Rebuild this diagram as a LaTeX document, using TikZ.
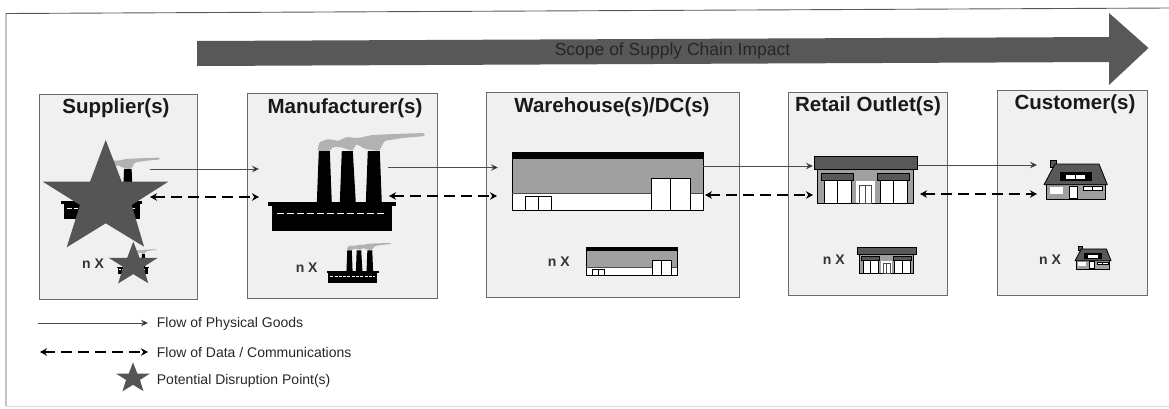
\documentclass[tikz,border=0pt]{standalone}
\usepackage{fontspec}
\setmainfont{Liberation Sans}
\usetikzlibrary{arrows.meta}
\definecolor{panelgray}{HTML}{F0F0F0}
\definecolor{edgegray}{HTML}{6A6A6A}
\definecolor{dark}{HTML}{585858}
\definecolor{starcol}{HTML}{555555}
\definecolor{midgray}{HTML}{A0A0A0}
\tikzset{
  panel/.style={draw=edgegray,line width=.8pt,fill=panelgray,anchor=north west,inner sep=0pt},
  paneltitle/.style={font=\fontsize{20.5}{24}\selectfont\bfseries,text=black!90,inner sep=0pt},
  nx/.style={font=\fontsize{14}{18}\selectfont\bfseries,text=black!80,inner sep=0pt},
  legendtext/.style={font=\fontsize{14}{17}\selectfont,text=black!85,anchor=west,inner sep=0pt},
  goods/.style={draw=black!70,line width=.8pt,-{Stealth[length=7pt,width=6.5pt,fill=black]}},
  data/.style={draw=black,line width=2.3pt,dash pattern=on 11pt off 6pt,{Stealth[length=7pt,width=7.5pt]}-{Stealth[length=7pt,width=7.5pt]}},
  roofdash/.style={white,line width=1.5pt,dash pattern=on 7pt off 3pt},
  staricon/.pic={
    \fill[starcol] (0,-160)--(48,-35)--(188,-35)--(78,35)--(115,160)--(0,90)--(-117,162)--(-77,35)--(-189,-35)--(-47,-35)--cycle;
  },
  factoryicon/.pic={
    \fill[black!30,rounded corners=1.5pt] (-15,-53)--(-13,-62)--(-4,-65)--(6,-63)--(14,-67)--(26,-66)--(40,-69)--(62,-70)--(92,-71)--(93,-68)--(70,-66)--(52,-63)--(47,-53)--(33,-55)--(24,-60)--(20,-53)--(8,-57)--(0,-57)--(-2,-53)--cycle;
    \fill[black] (-15.5,-1)--(-13.5,-53)--(-2.5,-53)--(-0.5,-1)--cycle;
    \fill[black] (7.5,-1)--(9.5,-53)--(20.5,-53)--(23.5,-1)--cycle;
    \fill[black] (33.5,-1)--(35.5,-53)--(47.5,-53)--(49.5,-1)--cycle;
    \fill[black] (-64,-2) rectangle (64,2);
    \fill[black] (-60,2) rectangle (60,27);
    \draw[roofdash] (-55,9.5)--(53,9.5);
  },
  warehouseicon/.pic={
    \fill[midgray] (0,7) rectangle (191,41);
    \fill[white] (0,41) rectangle (191,58.4);
    \draw[black,line width=.8pt] (0,0) rectangle (191,58.4);
    \fill[black] (0,0) rectangle (191,7);
    \draw[black!70,line width=.6pt] (0,41)--(191,41);
    \draw[black,line width=.8pt,fill=white] (139.3,26.4) rectangle (177.7,58);
    \draw[black,line width=.8pt] (158.5,26.4)--(158.5,58);
    \draw[black,line width=.8pt,fill=white] (12.7,44.4) rectangle (38.7,58.4);
    \draw[black,line width=.8pt] (25.7,44.4)--(25.7,58.4);
  },
  storeicon/.pic={
    \draw[black,line width=1pt,fill=midgray] (3.3,12.6) rectangle (99.3,46.6);
    \draw[black,line width=1pt,fill=dark] (0,0) rectangle (103.7,12.6);
    \draw[black,line width=.8pt,fill=dark] (7,16.6) rectangle (39.7,23.3);
    \draw[black,line width=.8pt,fill=dark] (63.7,16.6) rectangle (95,23.3);
    \draw[black,line width=.8pt,fill=white] (10.3,24) rectangle (37,46.6);
    \draw[black,line width=.8pt] (23.6,24)--(23.6,46.6);
    \draw[black,line width=.8pt,fill=white] (66.3,24) rectangle (93,46.6);
    \draw[black,line width=.8pt] (79.6,24)--(79.6,46.6);
    \fill[white] (42,24) rectangle (61,46.6);
    \draw[black!70,line width=.6pt] (45.3,28.3) rectangle (57.7,46.6);
    \draw[black!70,line width=.6pt] (51.5,28.3)--(51.5,46.6);
  },
  houseicon/.pic={
    \draw[black,line width=.8pt,fill=dark] (6.7,0) rectangle (12.7,7);
    \draw[black,line width=.9pt,fill=midgray] (2.7,24.7) rectangle (61,39.3);
    \draw[black,line width=.8pt,fill=dark,line join=round] (11,4)--(55,4)--(63.3,24.7)--(0,24.7)--cycle;
    \fill[black] (16,11.7) rectangle (47.7,20.7);
    \fill[white] (22,15.3) rectangle (31,19);
    \fill[white] (32,15.3) rectangle (40.7,19);
    \fill[white] (6,27.3) rectangle (19.3,34);
    \draw[black,line width=.6pt,fill=white] (25.3,26) rectangle (33.7,38);
    \draw[black,line width=.5pt,fill=white] (39.3,26.7) rectangle (58,30);
    \draw[black,line width=.5pt] (48.6,26.7)--(48.6,30);
  }
}
\begin{document}
\begin{tikzpicture}[x=1pt,y=-1pt]
\useasboundingbox (0,0) rectangle (1169,408);
% outer frame
\coordinate (frameTL) at (6,13.5);
\coordinate (frameTR) at (1169,8);
\coordinate (frameBL) at (6,406);
\coordinate (frameBR) at (1169,406);
\draw[black!65,line width=.9pt] (frameTR)--(frameTL)--(frameBL);
\draw[black!15,line width=.6pt] (frameBL)--(frameBR);
% banner
\fill[dark] (197,41)--(1109,37)--(1109,13)--(1148.5,48)--(1109,85)--(1109,62)--(197,66)--cycle;
\node[inner sep=0pt,font=\fontsize{17.5}{20}\selectfont,text=black!85] (scope) at (672.5,51) {Scope of Supply Chain Impact};
% panels
\node[panel,minimum width=158.5pt,minimum height=205pt] (supplier) at (38.5,94) {};
\node[panel,minimum width=190pt,minimum height=205pt] (manufacturer) at (247,93) {};
\node[panel,minimum width=253pt,minimum height=205pt] (warehouse) at (486,92) {};
\node[panel,minimum width=159pt,minimum height=203pt] (retail) at (788,92) {};
\node[panel,minimum width=150pt,minimum height=205pt] (customer) at (997,90) {};
\node[paneltitle] (tsup) at (116,108) {Supplier(s)};
\node[paneltitle] (tman) at (345,108) {Manufacturer(s)};
\node[paneltitle] (tware) at (612,107) {Warehouse(s)/DC(s)};
\node[paneltitle] (tret) at (868,106) {Retail Outlet(s)};
\node[paneltitle] (tcus) at (1075,104.5) {Customer(s)};
% icons
\pic[scale=.63,roofdash/.style={white,line width=1.1pt,dash pattern=on 4.5pt off 2pt}] at (101.7,202.3) {factoryicon};
\fill[panelgray] (84,155) rectangle (97,176);
\pic[scale=1/3] at (105.7,193.3) {staricon};
\pic[scale=.25,roofdash/.style={white,line width=.4pt,dash pattern=on 2pt off 1pt}] at (133,267) {factoryicon};
\pic[scale=.13] at (133.3,262.4) {staricon};
\pic at (332.3,204) {factoryicon};
\pic[scale=.41,roofdash/.style={white,line width=.6pt,dash pattern=on 3pt off 1.3pt}] at (352.8,272) {factoryicon};
\pic at (512.3,152.3) {warehouseicon};
\pic[scale=.478] at (586,247.7) {warehouseicon};
\pic at (814,156.7) {storeicon};
\pic[scale=.566] at (857.3,247) {storeicon};
\pic at (1044,160) {houseicon};
\pic[scale=.57] at (1075,246.7) {houseicon};
% n X
\node[nx] (n1) at (93,264) {n X};
\node[nx] (n2) at (306.7,268) {n X};
\node[nx] (n3) at (558.7,262) {n X};
\node[nx] (n4) at (833.7,260) {n X};
\node[nx] (n5) at (1050,260) {n X};
% flow end points
\coordinate (g1a) at (150,169); \coordinate (g1b) at (259,169);
\coordinate (g2a) at (388,167.5); \coordinate (g2b) at (498,167.5);
\coordinate (g3a) at (703,166); \coordinate (g3b) at (813,166);
\coordinate (g4a) at (918,165); \coordinate (g4b) at (1037,165);
\coordinate (d1a) at (150,197); \coordinate (d1b) at (259,197);
\coordinate (d2a) at (389,196); \coordinate (d2b) at (497,196);
\coordinate (d3a) at (705,195); \coordinate (d3b) at (813,195);
\coordinate (d4a) at (920,194); \coordinate (d4b) at (1037,194);
\draw[goods] (g1a)--(g1b);
\draw[goods] (g2a)--(g2b);
\draw[goods] (g3a)--(g3b);
\draw[goods] (g4a)--(g4b);
\draw[data] (d1a)--(d1b);
\draw[data] (d2a)--(d2b);
\draw[data] (d3a)--(d3b);
\draw[data] (d4a)--(d4b);
% legend
\coordinate (lg1) at (38,323); \coordinate (lg2) at (148,323);
\coordinate (ld1) at (40,352); \coordinate (ld2) at (148,352);
\draw[goods] (lg1)--(lg2);
\draw[data] (ld1)--(ld2);
\pic[scale=.09] at (133,376.7) {staricon};
\node[legendtext] (l1) at (156.7,323.5) {Flow of Physical Goods};
\node[legendtext] (l2) at (156.7,352) {Flow of Data / Communications};
\node[legendtext] (l3) at (156.7,381) {Potential Disruption Point(s)};
\end{tikzpicture}
\end{document}
